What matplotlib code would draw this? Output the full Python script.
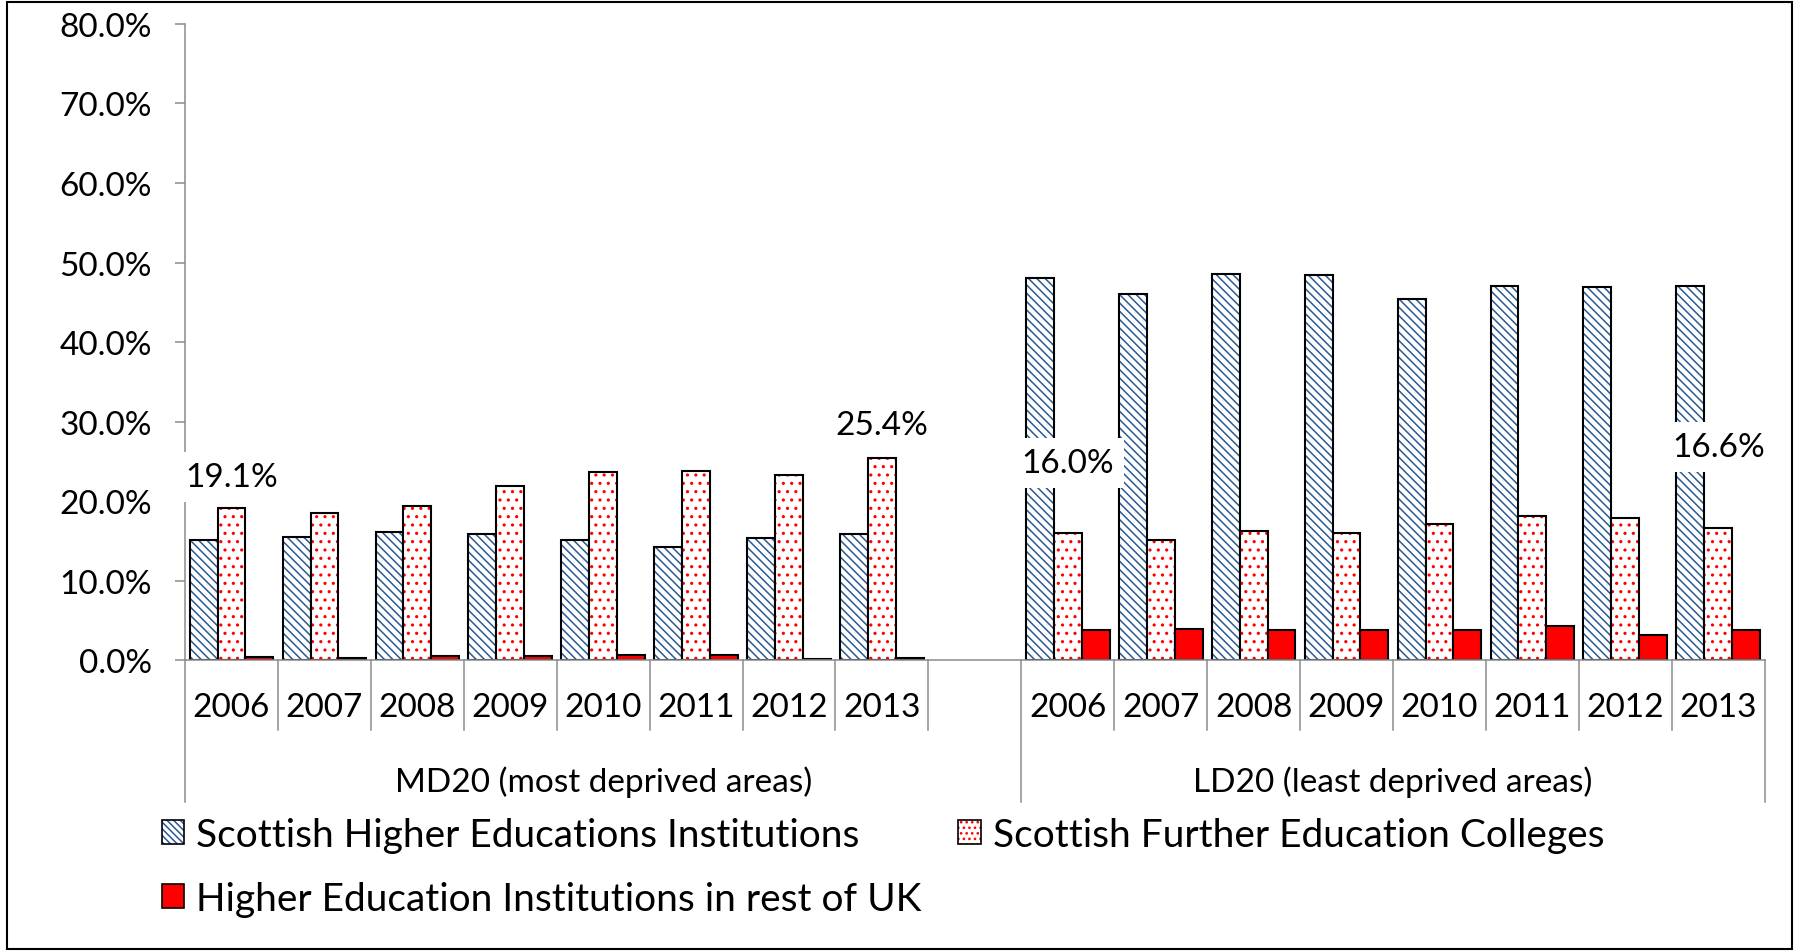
import matplotlib.pyplot as plt
import numpy as np
from matplotlib.patches import Patch, Rectangle
from matplotlib.ticker import FuncFormatter
import matplotlib.transforms as mtransforms

plt.rcParams['font.family'] = ['Lato', 'DejaVu Sans']
plt.rcParams['hatch.linewidth'] = 1.1

years = ['2006', '2007', '2008', '2009', '2010', '2011', '2012', '2013']
groups = ['MD20 (most deprived areas)', 'LD20 (least deprived areas)']
series_names = ['Scottish Higher Educations Institutions',
                'Scottish Further Education Colleges',
                'Higher Education Institutions in rest of UK']

# percent values
md_hei = [15.1, 15.5, 16.1, 15.9, 15.1, 14.2, 15.4, 15.9]
md_fec = [19.1, 18.5, 19.4, 21.9, 23.7, 23.8, 23.3, 25.4]
md_ruk = [0.4, 0.3, 0.6, 0.5, 0.7, 0.7, 0.2, 0.3]
ld_hei = [48.0, 46.0, 48.6, 48.4, 45.4, 47.1, 46.9, 47.1]
ld_fec = [16.0, 15.1, 16.3, 16.0, 17.1, 18.2, 17.9, 16.6]
ld_ruk = [3.8, 3.9, 3.8, 3.8, 3.8, 4.3, 3.2, 3.8]

GRAY = '#8c8c8c'
BLUE = '#2a5a94'
FS = 24

fig = plt.figure(figsize=(17.97, 9.53), dpi=100)
ax = fig.add_axes([0.103, 0.306, 0.879, 0.668])

n = len(years)
pos = np.r_[np.arange(n), np.arange(n) + n + 1]  # one empty slot between groups
hei = md_hei + ld_hei
fec = md_fec + ld_fec
ruk = md_ruk + ld_ruk

w = 0.3
# hatched bars: hatch layer + black outline layer
ax.bar(pos - w, hei, w, color='white', edgecolor=BLUE, hatch='\\\\\\\\', linewidth=0)
ax.bar(pos - w, hei, w, fill=False, edgecolor='black', linewidth=1.5)
ax.bar(pos, fec, w, color='white', edgecolor='#ff0000', hatch='..', linewidth=0)
ax.bar(pos, fec, w, fill=False, edgecolor='black', linewidth=1.5)
ax.bar(pos + w, ruk, w, color='#ff0000', edgecolor='black', linewidth=1.5)

ax.set_xlim(-0.5, 2 * n + 0.5)
ax.set_ylim(0, 80)
ax.set_yticks(np.arange(0, 81, 10))
ax.yaxis.set_major_formatter(FuncFormatter(lambda v, p: '%.1f%%' % v))
ax.tick_params(axis='y', direction='out', length=7, width=1.1, color=GRAY,
               labelsize=FS, pad=17)
ax.set_xticks([])
for s in ['top', 'right']:
    ax.spines[s].set_visible(False)
for s in ['left', 'bottom']:
    ax.spines[s].set_color(GRAY)
    ax.spines[s].set_linewidth(1.1)

# category axis drawn by hand (two-level labels)
tr = mtransforms.blended_transform_factory(ax.transData, ax.transAxes)
short_y, long_y = -0.11, -0.222
for b in np.arange(-0.5, 2 * n + 1, 1.0):
    bottom = long_y if b in (-0.5, n + 0.5, 2 * n + 0.5) else short_y
    ax.plot([b, b], [0, bottom], color=GRAY, lw=1.1, transform=tr, clip_on=False)
for p, yr in zip(pos, years + years):
    ax.text(p, -0.074, yr, transform=tr, ha='center', va='center', fontsize=FS)
ax.text(n / 2, -0.19, groups[0], transform=tr, ha='center', va='center', fontsize=FS)
ax.text(n + 0.5 + n / 2, -0.19, groups[1], transform=tr, ha='center', va='center', fontsize=FS)

# data labels on the FE college series (first and last year of each group)
label_idx = [0, n - 1, n, 2 * n - 1]
label_off = [4.0, 4.2, 8.8, 10.2]
for i, off in zip(label_idx, label_off):
    ax.text(pos[i], fec[i] + off, '%.1f%%' % fec[i], ha='center', va='center',
            fontsize=FS, bbox=dict(boxstyle='square,pad=0.3', fc='white', ec='none'))

h1 = (Patch(facecolor='white', edgecolor=BLUE, hatch='\\\\\\\\\\', linewidth=0),
      Patch(fill=False, edgecolor='black', linewidth=1.2))
h2 = (Patch(facecolor='white', edgecolor='#ff0000', hatch='...', linewidth=0),
      Patch(fill=False, edgecolor='black', linewidth=1.2))
h3 = Patch(facecolor='#ff0000', edgecolor='black', linewidth=1.2)
fig.legend([h1, h3, h2], [series_names[0], series_names[2], series_names[1]],
           ncol=2, loc='upper left', bbox_to_anchor=(0.09, 0.142), frameon=False,
           fontsize=28, handlelength=0.58, handleheight=0.58, handletextpad=0.3,
           labelspacing=0.72, columnspacing=0.95, borderpad=0, borderaxespad=0)

fig.patches.append(Rectangle((0.004, 0.003), 0.993, 0.994, transform=fig.transFigure,
                             fill=False, edgecolor='black', linewidth=1.5))

fig.savefig('out.png', dpi=100)
